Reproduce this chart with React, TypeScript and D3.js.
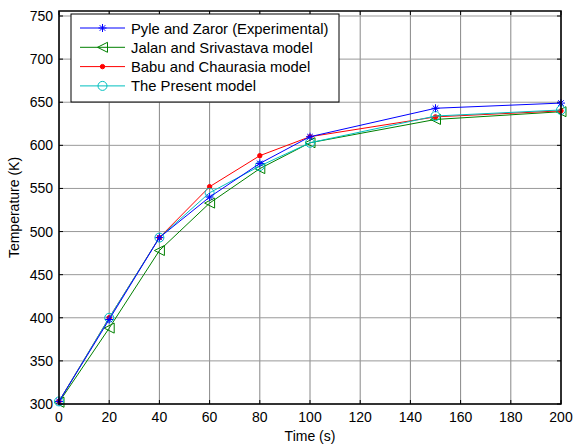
import React from "react";
import * as d3 from "d3";

const times = [0, 20, 40, 60, 80, 100, 150, 200];
const pyle = [303, 398, 493, 540, 579, 610, 643, 649];
const jalan = [302, 388, 478, 533, 573, 603, 630, 639];
const babu = [303, 400, 493, 552, 588, 610, 633, 640];
const present = [303, 400, 493, 545, 576, 603, 634, 641];
const seriesNames = [
  "Pyle and Zaror (Experimental)",
  "Jalan and Srivastava model",
  "Babu and Chaurasia model",
  "The Present model",
];
const xTicks = [0, 20, 40, 60, 80, 100, 120, 140, 160, 180, 200];
const yTicks = [300, 350, 400, 450, 500, 550, 600, 650, 700, 750];

const W = 574, H = 448;
const L = 59, R = 561, T = 11, B = 404;
const FONT = "'Liberation Sans', Arial, sans-serif";

function Marker({ kind, x, y, color }: { kind: string; x: number; y: number; color: string }) {
  if (kind === "star") {
    const r = 4;
    return (
      <g stroke={color} strokeWidth={1}>
        <line x1={x - r} y1={y} x2={x + r} y2={y} />
        <line x1={x} y1={y - r} x2={x} y2={y + r} />
        <line x1={x - r * 0.7} y1={y - r * 0.7} x2={x + r * 0.7} y2={y + r * 0.7} />
        <line x1={x - r * 0.7} y1={y + r * 0.7} x2={x + r * 0.7} y2={y - r * 0.7} />
      </g>
    );
  }
  if (kind === "tri") {
    const r = 5;
    return (
      <polygon
        points={`${x - r},${y} ${x + r},${y - r} ${x + r},${y + r}`}
        fill="none"
        stroke={color}
        strokeWidth={1}
      />
    );
  }
  if (kind === "dot") {
    return <circle cx={x} cy={y} r={2.2} fill={color} stroke={color} />;
  }
  return <circle cx={x} cy={y} r={4.5} fill="none" stroke={color} strokeWidth={1} />;
}

export default function App() {
  const x = d3.scaleLinear().domain([0, 200]).range([L, R]);
  const y = d3.scaleLinear().domain([300, 750]).range([B, 16]);
  const line = d3
    .line<number>()
    .x((_, i) => x(times[i]))
    .y((d) => y(d));

  const series = [
    { data: jalan, color: "#008000", kind: "tri", name: seriesNames[1] },
    { data: babu, color: "#ff0000", kind: "dot", name: seriesNames[2] },
    { data: present, color: "#00bfbf", kind: "circle", name: seriesNames[3] },
    { data: pyle, color: "#0000ff", kind: "star", name: seriesNames[0] },
  ];
  const legendOrder = [series[3], series[0], series[1], series[2]];

  return (
    <svg width={W} height={H} style={{ position: "absolute", left: 0, top: 0 }} fontFamily={FONT}>
      <rect x={0} y={0} width={W} height={H} fill="#fff" />
      {xTicks.map((t) => (
        <line key={"gx" + t} x1={x(t)} x2={x(t)} y1={T} y2={B} stroke="#888" strokeWidth={1} />
      ))}
      {yTicks.map((t) => (
        <line key={"gy" + t} x1={L} x2={R} y1={y(t)} y2={y(t)} stroke="#999" strokeWidth={1} />
      ))}
      {xTicks.map((t) => (
        <g key={"tx" + t} stroke="#000">
          <line x1={x(t)} x2={x(t)} y1={B} y2={B - 4} />
          <line x1={x(t)} x2={x(t)} y1={T} y2={T + 4} />
        </g>
      ))}
      {yTicks.map((t) => (
        <g key={"ty" + t} stroke="#000">
          <line x1={L} x2={L + 4} y1={y(t)} y2={y(t)} />
          <line x1={R} x2={R - 4} y1={y(t)} y2={y(t)} />
        </g>
      ))}
      {series.map((s) => (
        <g key={s.name}>
          <path d={line(s.data) || ""} fill="none" stroke={s.color} strokeWidth={1} />
          {s.data.map((v, i) => (
            <Marker key={i} kind={s.kind} x={x(times[i])} y={y(v)} color={s.color} />
          ))}
        </g>
      ))}
      <rect x={L} y={T} width={R - L} height={B - T} fill="none" stroke="#000" strokeWidth={1.5} />
      {xTicks.map((t) => (
        <text key={"lx" + t} x={x(t)} y={B + 18} textAnchor="middle" fontSize={14}>
          {t}
        </text>
      ))}
      {yTicks.map((t) => (
        <text key={"ly" + t} x={L - 6} y={y(t) + 5} textAnchor="end" fontSize={14}>
          {t}
        </text>
      ))}
      <text x={(L + R) / 2} y={441} textAnchor="middle" fontSize={14}>
        Time (s)
      </text>
      <text transform={`translate(19,${(T + B) / 2}) rotate(-90)`} textAnchor="middle" fontSize={14}>
        Temperature (K)
      </text>
      <g>
        <rect x={71} y={14} width={268} height={88} fill="#fff" stroke="#000" strokeWidth={1} />
        {legendOrder.map((s, i) => {
          const yy = 28 + i * 19.3;
          return (
            <g key={"lg" + i}>
              <line x1={80} x2={125} y1={yy} y2={yy} stroke={s.color} strokeWidth={1} />
              <Marker kind={s.kind} x={102.5} y={yy} color={s.color} />
              <text x={131} y={yy + 5.5} fontSize={14.8}>
                {s.name}
              </text>
            </g>
          );
        })}
      </g>
    </svg>
  );
}
